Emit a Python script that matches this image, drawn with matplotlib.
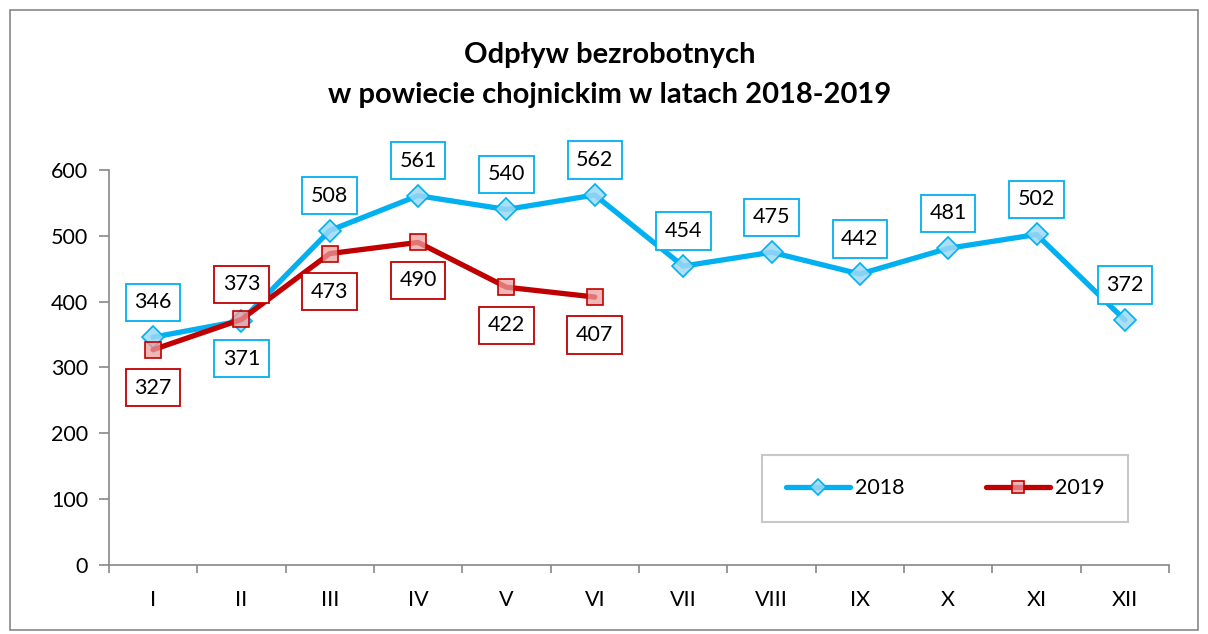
import matplotlib
matplotlib.use("Agg")
import matplotlib.pyplot as plt
from matplotlib.patches import Rectangle
import numpy as np

months = ["I", "II", "III", "IV", "V", "VI", "VII", "VIII", "IX", "X", "XI", "XII"]
vals_2018 = [346, 371, 508, 561, 540, 562, 454, 475, 442, 481, 502, 372]
vals_2019 = [327, 373, 473, 490, 422, 407]
# label placement: +1 above, -1 below
pos_2018 = [1, -1, 1, 1, 1, 1, 1, 1, 1, 1, 1, 1]
pos_2019 = [-1, 1, -1, -1, -1, -1]

title = "Odpływ bezrobotnych\nw powiecie chojnickim w latach 2018-2019"

plt.rcParams['font.family'] = ['Lato', 'DejaVu Sans']

blue = "#00B0F0"
red = "#C00000"

fig = plt.figure(figsize=(12.08, 6.34), dpi=100)
ax = fig.add_axes([0.0901, 0.1088, 0.8777, 0.6231])

x18 = np.arange(len(vals_2018))
x19 = np.arange(len(vals_2019))

ax.plot(x18, vals_2018, color=blue, lw=3.8, marker="D", ms=11,
        mfc=(0.62, 0.85, 0.96, 0.85), mec=blue, mew=1.2, label="2018", zorder=3,
        solid_capstyle="round")
ax.plot(x19, vals_2019, color=red, lw=3.8, marker="s", ms=12,
        mfc=(0.93, 0.62, 0.62, 0.75), mec=red, mew=1.2, label="2019", zorder=4,
        solid_capstyle="round")

def lab(xs, vs, ps, col):
    for x, v, p in zip(xs, vs, ps):
        off = 35 if p > 0 else -38
        ax.annotate(str(v), (x, v), xytext=(0, off), textcoords="offset pixels",
                    ha="center", va="center", fontsize=15.5, color="black",
                    bbox=dict(boxstyle="square,pad=0.4", fc="white", ec=col, lw=1.3),
                    zorder=5)

lab(x18, vals_2018, pos_2018, blue)
lab(x19, vals_2019, pos_2019, red)

ax.set_xlim(-0.5, 11.5)
ax.set_ylim(0, 600)
ax.set_yticks(range(0, 601, 100))
ax.set_xticks(x18)
ax.set_xticklabels(months)
ax.set_xticks(np.arange(-0.5, 12, 1), minor=True)
ax.tick_params(axis="x", which="major", length=0, pad=18, labelsize=15.5)
ax.tick_params(axis="x", which="minor", length=6, color="#888888", width=1.2)
ax.tick_params(axis="y", length=7, color="#888888", width=1.2, labelsize=15.5, pad=8)
for s in ["top", "right"]:
    ax.spines[s].set_visible(False)
for s in ["left", "bottom"]:
    ax.spines[s].set_color("#888888")
    ax.spines[s].set_linewidth(1.2)

leg = ax.legend(loc="center", bbox_to_anchor=(762 / 1208, (634 - 525) / 634, 366 / 1208, 73 / 634),
                bbox_transform=fig.transFigure, ncol=2, frameon=True, fontsize=15.5,
                handlelength=3.0, columnspacing=2.5, handletextpad=0.2,
                mode="expand", borderaxespad=0, borderpad=1.1, fancybox=False)
leg.get_frame().set_edgecolor("#BBBBBB")
leg.get_frame().set_linewidth(1.5)
for h in leg.legend_handles:
    h.set_markersize(8)

fig.text(0.505, 0.882, title, ha="center", va="center", fontsize=21,
         fontweight="bold", linespacing=1.65)

fig.patches.append(Rectangle((10 / 1208, 4 / 634), 1188 / 1208, 620 / 634,
                             transform=fig.transFigure, fill=False,
                             ec="#888888", lw=1.2))

fig.savefig("out.png", dpi=100)
